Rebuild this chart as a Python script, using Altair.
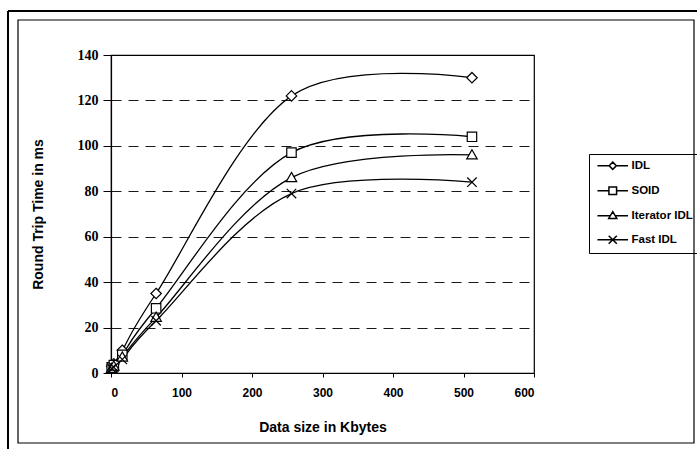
import altair as alt
import pandas as pd

# ---- data ----
sizes = [1, 4, 16, 64, 256, 512]
series = ["IDL", "SOID", "Iterator IDL", "Fast IDL"]
idl = [3, 4, 10, 35, 122, 130]
soid = [2.5, 3.5, 8, 28.5, 97, 104]
iterator_idl = [2, 3, 7, 24.5, 86, 96]
fast_idl = [2, 2.5, 6, 23, 79, 84]
x_ticks = [0, 100, 200, 300, 400, 500, 600]
y_ticks = [0, 20, 40, 60, 80, 100, 120, 140]

rows = []
for name, vals in zip(series, [idl, soid, iterator_idl, fast_idl]):
    for s, v in zip(sizes, vals):
        rows.append({"series": name, "size": s, "time": v})
df = pd.DataFrame(rows)

# marker shapes (plot)
marker_paths = [
    "M0,-1L1,0L0,1L-1,0Z",
    "M-0.9,-0.9L0.9,-0.9L0.9,0.9L-0.9,0.9Z",
    "M0,-1L1,0.75L-1,0.75Z",
    "M-0.9,-0.9L0.9,0.9M-0.9,0.9L0.9,-0.9",
]
# legend shapes: line + marker
legend_paths = [
    "M-3.4,0L-0.8,0M0.8,0L3.4,0M0,-0.8L0.8,0L0,0.8L-0.8,0Z",
    "M-3.4,0L-0.85,0M0.85,0L3.4,0M-0.85,-0.85L0.85,-0.85L0.85,0.85L-0.85,0.85Z",
    "M-3.4,0L-0.55,0M0.55,0L3.4,0M0,-0.9L0.9,0.6L-0.9,0.6Z",
    "M-3.4,0L3.4,0M-0.9,-0.9L0.9,0.9M-0.9,0.9L0.9,-0.9",
]

W, H = 423, 318
PL, PT = 111, 55

x_enc = alt.X(
    "size:Q",
    scale=alt.Scale(domain=[0, 600], nice=False),
    axis=alt.Axis(
        values=x_ticks, title="Data size in Kbytes", grid=False,
        labelFont="Liberation Sans", labelFontSize=12, labelFontWeight="bold",
        tickSize=4, labelPadding=10, titleY=54, titleBaseline="middle",
    ),
)
y_enc = alt.Y(
    "time:Q",
    scale=alt.Scale(domain=[0, 140], nice=False),
    axis=alt.Axis(
        values=y_ticks, title="Round Trip Time in ms", grid=True,
        gridDash=[10, 7], gridColor="black", gridWidth=1, gridOpacity=0.9,
        labelFont="Liberation Serif", labelFontSize=14, labelFontWeight="bold",
        tickSize=8, labelPadding=5, titleX=-73, titleBaseline="middle",
    ),
)

lines = alt.Chart().mark_line(
    interpolate="cardinal", color="black", strokeWidth=1.3
).encode(x=x_enc, y=y_enc, detail="series:N")

points = alt.Chart().mark_point(
    filled=False, fill="white", fillOpacity=1, stroke="black", strokeWidth=1.2, size=110, opacity=1
).encode(
    x=alt.X("size:Q"),
    y=alt.Y("time:Q"),
    shape=alt.Shape("series:N", scale=alt.Scale(domain=series, range=marker_paths), legend=None),
)

legend_pts = alt.Chart().mark_point(
    filled=False, fill="white", fillOpacity=1, stroke="black", strokeWidth=1.2, size=81, opacity=1, clip=True
).encode(
    x=alt.value(-80),
    y=alt.value(-80),
    shape=alt.Shape(
        "series:N",
        scale=alt.Scale(domain=series, range=legend_paths),
        legend=alt.Legend(
            title=None, orient="none", legendX=478, legendY=99,
            strokeColor="black", padding=6,
            symbolSize=81, symbolOffset=12, labelOffset=13, rowPadding=10,
            labelFont="Liberation Sans", labelFontSize=11.5, labelFontWeight="bold",
            labelColor="black",
        ),
    ),
)

one = pd.DataFrame({"k": [0]})
frame_rect = alt.Chart(one).mark_rect(fill=None, stroke="black", strokeWidth=1.2).encode(
    x=alt.value(18 - PL), x2=alt.value(694 - PL), y=alt.value(20 - PT), y2=alt.value(443 - PT)
)
frame_top = alt.Chart(one).mark_rule(color="black", strokeWidth=2).encode(
    x=alt.value(8 - PL), x2=alt.value(697 - PL), y=alt.value(11 - PT)
)
frame_left = alt.Chart(one).mark_rule(color="black", strokeWidth=2).encode(
    x=alt.value(8 - PL), y=alt.value(11 - PT), y2=alt.value(449 - PT)
)

chart = alt.layer(
    frame_rect, frame_top, frame_left, lines, points, legend_pts, data=df
).resolve_scale(shape="independent").properties(
    width=W, height=H,
    autosize=alt.AutoSizeParams(type="none"),
    padding={"left": PL, "top": PT, "right": 697 - PL - W, "bottom": 449 - PT - H},
    background="white",
).configure_view(
    stroke="black", strokeWidth=1.2
).configure_axis(
    domainColor="black", tickColor="black", labelColor="black", titleColor="black",
    titleFont="Liberation Sans", titleFontSize=14, titleFontWeight="bold",
    domainWidth=1.2,
)

chart.save("out.html", embed_options={"renderer": "svg", "actions": False})
